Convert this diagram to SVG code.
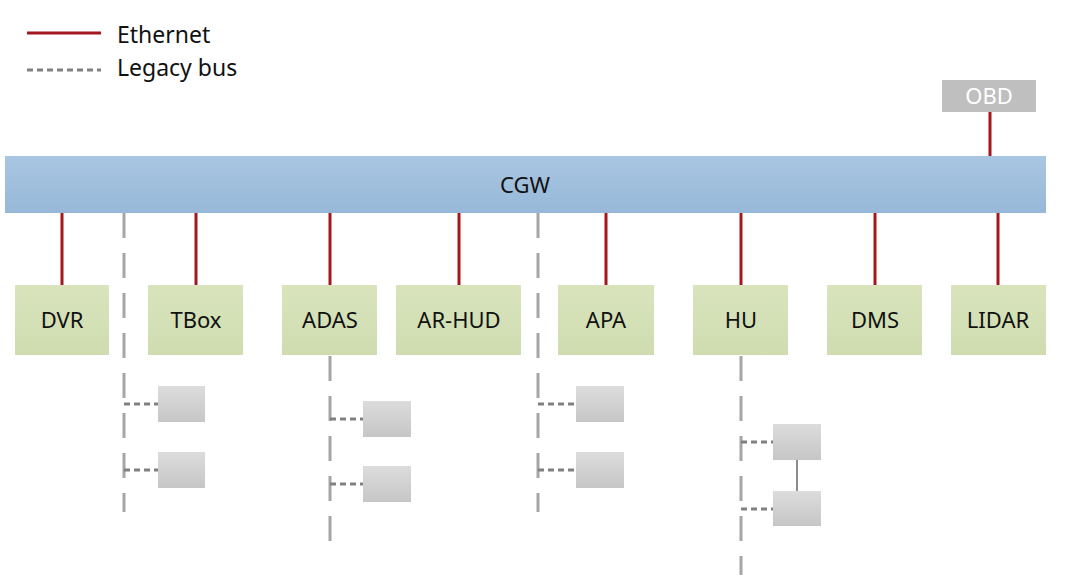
<svg xmlns="http://www.w3.org/2000/svg" width="1073" height="588" viewBox="0 0 1073 588">
<defs>
<linearGradient id="gBlue" x1="0" y1="0" x2="0" y2="1"><stop offset="0" stop-color="#a9c6e2"/><stop offset="1" stop-color="#97b8d8"/></linearGradient>
<linearGradient id="gGreen" x1="0" y1="0" x2="0" y2="1"><stop offset="0" stop-color="#d9e4bd"/><stop offset="1" stop-color="#cfdcaf"/></linearGradient>
<linearGradient id="gGray" x1="0" y1="0" x2="0" y2="1"><stop offset="0" stop-color="#dcdcdc"/><stop offset="1" stop-color="#c6c6c6"/></linearGradient>
</defs>
<style>
text{font-family:"Noto Sans","Open Sans",sans-serif;}
.lbl{font-size:22px;fill:#111111;text-anchor:middle;}
.leg{font-size:23px;fill:#111111;}
.ecu{fill:url(#gGreen);}
.sub{fill:url(#gGray);}
.eth{stroke:#a3181f;stroke-width:3;fill:none;}
.bus{stroke:#a6a6a6;stroke-width:3;stroke-dasharray:25 15;fill:none;}
.stub{stroke:#808080;stroke-width:3;stroke-dasharray:6 4;fill:none;}
.link{stroke:#404040;stroke-width:1.2;fill:none;}
</style>
<rect width="1073" height="588" fill="#ffffff"/>
<g id="legend">
<line x1="27" y1="33" x2="101" y2="33" class="eth"/>
<text x="117" y="43" class="leg">Ethernet</text>
<line x1="27" y1="70" x2="101" y2="70" class="stub" stroke="#8c8c8c"/>
<text x="117" y="76" class="leg">Legacy bus</text>
</g>
<g id="connectors">
<line x1="990" y1="112" x2="990" y2="156" class="eth"/>
<line x1="62" y1="213" x2="62" y2="285" class="eth"/>
<line x1="196" y1="213" x2="196" y2="285" class="eth"/>
<line x1="330" y1="213" x2="330" y2="285" class="eth"/>
<line x1="459" y1="213" x2="459" y2="285" class="eth"/>
<line x1="606" y1="213" x2="606" y2="285" class="eth"/>
<line x1="741" y1="213" x2="741" y2="285" class="eth"/>
<line x1="875" y1="213" x2="875" y2="285" class="eth"/>
<line x1="998" y1="213" x2="998" y2="285" class="eth"/>
<line x1="124" y1="213" x2="124" y2="512" class="bus"/>
<line x1="538" y1="213" x2="538" y2="512" class="bus"/>
<line x1="330" y1="356" x2="330" y2="545" class="bus"/>
<line x1="741" y1="356" x2="741" y2="575" class="bus"/>
<line x1="124" y1="404" x2="158" y2="404" class="stub"/>
<line x1="124" y1="470" x2="158" y2="470" class="stub"/>
<line x1="330" y1="419" x2="363" y2="419" class="stub"/>
<line x1="330" y1="484" x2="363" y2="484" class="stub"/>
<line x1="538" y1="404" x2="576" y2="404" class="stub"/>
<line x1="538" y1="470" x2="576" y2="470" class="stub"/>
<line x1="741" y1="442" x2="773" y2="442" class="stub"/>
<line x1="741" y1="509" x2="773" y2="509" class="stub"/>
<line x1="797" y1="460" x2="797" y2="491" class="link"/>
</g>
<g id="CGW"><rect x="5" y="156" width="1041" height="57" fill="url(#gBlue)"/><text x="525" y="193" class="lbl">CGW</text></g>
<g id="OBD"><rect x="942" y="80" width="94" height="32" fill="#bfbfbf"/><text x="989" y="104" class="lbl" style="fill:#ffffff">OBD</text></g>
<g id="DVR"><rect x="15" y="285" width="94" height="70" class="ecu"/><text x="62" y="328" class="lbl">DVR</text></g>
<g id="TBox"><rect x="148" y="285" width="95" height="70" class="ecu"/><text x="196" y="328" class="lbl">TBox</text></g>
<g id="ADAS"><rect x="282" y="285" width="95" height="70" class="ecu"/><text x="330" y="328" class="lbl">ADAS</text></g>
<g id="AR-HUD"><rect x="396" y="285" width="125" height="70" class="ecu"/><text x="459" y="328" class="lbl">AR-HUD</text></g>
<g id="APA"><rect x="558" y="285" width="96" height="70" class="ecu"/><text x="606" y="328" class="lbl">APA</text></g>
<g id="HU"><rect x="693" y="285" width="95" height="70" class="ecu"/><text x="741" y="328" class="lbl">HU</text></g>
<g id="DMS"><rect x="827" y="285" width="95" height="70" class="ecu"/><text x="875" y="328" class="lbl">DMS</text></g>
<g id="LIDAR"><rect x="951" y="285" width="95" height="70" class="ecu"/><text x="998" y="328" class="lbl">LIDAR</text></g>
<g id="TBox-sub1"><rect x="158" y="386" width="47" height="36" class="sub"/></g>
<g id="TBox-sub2"><rect x="158" y="452" width="47" height="36" class="sub"/></g>
<g id="ADAS-sub1"><rect x="363" y="401" width="48" height="36" class="sub"/></g>
<g id="ADAS-sub2"><rect x="363" y="466" width="48" height="36" class="sub"/></g>
<g id="APA-sub1"><rect x="576" y="386" width="48" height="36" class="sub"/></g>
<g id="APA-sub2"><rect x="576" y="452" width="48" height="36" class="sub"/></g>
<g id="HU-sub1"><rect x="773" y="424" width="48" height="36" class="sub"/></g>
<g id="HU-sub2"><rect x="773" y="491" width="48" height="35" class="sub"/></g>
</svg>
